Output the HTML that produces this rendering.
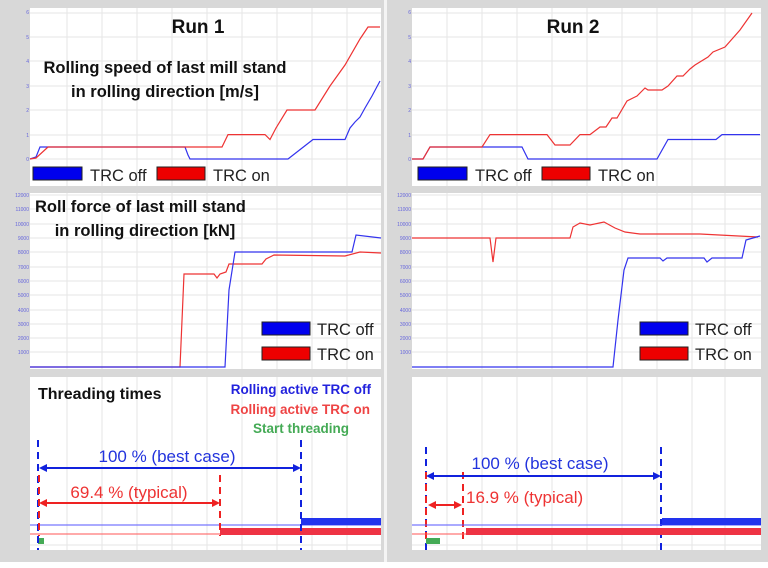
<!DOCTYPE html>
<html><head><meta charset="utf-8"><style>
body{margin:0;background:#fff}
svg{display:block;font-family:"Liberation Sans",sans-serif}
.b{font-weight:bold}
</style></head><body>
<svg width="768" height="568" viewBox="0 0 768 568">
<rect width="768" height="568" fill="#d8d8d8"/>
<rect x="384" y="0" width="3" height="568" fill="#f4f4f4"/>
<rect x="0" y="562" width="768" height="6" fill="#fff"/>
<!-- plot areas -->
<g fill="#fff">
<rect x="30" y="8" width="351" height="178"/><rect x="412" y="8" width="349" height="178"/>
<rect x="30" y="193" width="351" height="176"/><rect x="412" y="193" width="349" height="176"/>
<rect x="30" y="377" width="351" height="173"/><rect x="412" y="377" width="349" height="173"/>
</g>
<!-- grids -->
<g stroke="#e6e6e6" stroke-width="1">
<path d="M67 8V186M102 8V186M137 8V186M172 8V186M207 8V186M242 8V186M277 8V186M312 8V186M347 8V186"/>
<path d="M67 193V369M102 193V369M137 193V369M172 193V369M207 193V369M242 193V369M277 193V369M312 193V369M347 193V369"/>
<path d="M67 377V550M102 377V550M137 377V550M172 377V550M207 377V550M242 377V550M277 377V550M312 377V550M347 377V550"/>
<path d="M447 8V186M482 8V186M517 8V186M552 8V186M587 8V186M622 8V186M657 8V186M692 8V186M725 8V186"/>
<path d="M447 193V369M482 193V369M517 193V369M552 193V369M587 193V369M622 193V369M657 193V369M692 193V369M725 193V369"/>
<path d="M447 377V550M482 377V550M517 377V550M552 377V550M587 377V550M622 377V550M657 377V550M692 377V550M725 377V550"/>
<path d="M30 159H381M30 135H381M30 110H381M30 86H381M30 61H381M30 37H381M30 13H381"/>
<path d="M412 159H761M412 135H761M412 110H761M412 86H761M412 61H761M412 37H761M412 13H761"/>
<path d="M30 352H381M30 338H381M30 324H381M30 310H381M30 295H381M30 281H381M30 267H381M30 252H381M30 238H381M30 224H381M30 209H381M30 195H381"/>
<path d="M412 352H761M412 338H761M412 324H761M412 310H761M412 295H761M412 281H761M412 267H761M412 252H761M412 238H761M412 224H761M412 209H761M412 195H761"/>
<path d="M30 545H381M412 545H761"/>
</g>
<!-- tick labels -->
<g fill="#6666dd" font-size="5" text-anchor="end">
<text x="29" y="161">0</text><text x="29" y="137">1</text><text x="29" y="112">2</text><text x="29" y="88">3</text><text x="29" y="63">4</text><text x="29" y="39">5</text><text x="29" y="14">6</text>
<text x="411" y="161">0</text><text x="411" y="137">1</text><text x="411" y="112">2</text><text x="411" y="88">3</text><text x="411" y="63">4</text><text x="411" y="39">5</text><text x="411" y="14">6</text>
<text x="29" y="354">1000</text><text x="29" y="340">2000</text><text x="29" y="326">3000</text><text x="29" y="312">4000</text><text x="29" y="297">5000</text><text x="29" y="283">6000</text><text x="29" y="269">7000</text><text x="29" y="254">8000</text><text x="29" y="240">9000</text><text x="29" y="226">10000</text><text x="29" y="211">11000</text><text x="29" y="197">12000</text>
<text x="411" y="354">1000</text><text x="411" y="340">2000</text><text x="411" y="326">3000</text><text x="411" y="312">4000</text><text x="411" y="297">5000</text><text x="411" y="283">6000</text><text x="411" y="269">7000</text><text x="411" y="254">8000</text><text x="411" y="240">9000</text><text x="411" y="226">10000</text><text x="411" y="211">11000</text><text x="411" y="197">12000</text>
</g>
<!-- Run1 speed -->
<g fill="none" stroke-width="1.2">
<polyline stroke="#3333ee" points="30,159 36,157 40,147 185,147 188,155 190,159 288,159 313,139.5 345,139.5 350,128 355,122 360,117 365,108 372,96 380,81"/>
<polyline stroke="#ee3333" points="30,159 36,158 48,147 222,147 228,134.6 265,134.6 270,139.5 276,128 287,110 315,110 330,86 345,65 360,39 368,27 380,27"/>
<!-- Run2 speed -->
<polyline stroke="#3333ee" points="412,159 423,159 430,147 522,147 528,159 657,159 668,139.5 716,139.5 722,134.6 760,134.6"/>
<polyline stroke="#ee3333" points="412,159 423,159 430,147 482,147 490,134.6 547,134.6 555,145 570,145 580,134.6 590,134.6 600,127 606,127 612,118 617,118 627,101 637,96 645,88 648,90 662,90 668,86 677,76 683,76 690,69 695,65 708,57 713,52 725,47 740,30 752,13"/>
<!-- Run1 force -->
<polyline stroke="#ee3333" points="30,367 180,367 184,274 214,274 217,278 220,274 226,272 229,264 262,264 266,259 274,255 345,256 360,252 381,253"/>
<polyline stroke="#3333ee" points="30,367 225,367 229,290 235,252 352,252 356,235 381,238"/>
<!-- Run2 force -->
<polyline stroke="#ee3333" points="412,238 490,238 493,262 496,238 570,238 573,227 580,223 590,225 604,222 615,228 625,232 640,234 700,234 758,237"/>
<polyline stroke="#3333ee" points="412,367 613,367 618,320 624,270 628,258 660,258 663,261 667,258 704,258 707,262 712,258 742,258 746,240 760,236"/>
</g>
<!-- titles -->
<g class="b" fill="#111">
<text x="198" y="33" font-size="19" text-anchor="middle" font-weight="bold">Run 1</text>
<text x="573" y="33" font-size="19" text-anchor="middle" font-weight="bold">Run 2</text>
<text x="165" y="73" font-size="16.5" text-anchor="middle" font-weight="bold">Rolling speed of last mill stand</text>
<text x="165" y="97" font-size="16.5" text-anchor="middle" font-weight="bold">in rolling direction [m/s]</text>
<text x="35" y="212" font-size="16.5" font-weight="bold">Roll force of last mill stand</text>
<text x="145" y="236" font-size="16.5" text-anchor="middle" font-weight="bold">in rolling direction [kN]</text>
<text x="38" y="399" font-size="16" font-weight="bold">Threading times</text>
</g>
<!-- legends -->
<g stroke="#222" stroke-width="1">
<rect x="33" y="167" width="49" height="13" fill="#0000ee"/><rect x="157" y="167" width="48" height="13" fill="#ee0000"/>
<rect x="418" y="167" width="49" height="13" fill="#0000ee"/><rect x="542" y="167" width="48" height="13" fill="#ee0000"/>
<rect x="262" y="322" width="48" height="13" fill="#0000ee"/><rect x="262" y="347" width="48" height="13" fill="#ee0000"/>
<rect x="640" y="322" width="48" height="13" fill="#0000ee"/><rect x="640" y="347" width="48" height="13" fill="#ee0000"/>
</g>
<g font-size="16.5" fill="#222">
<text x="90" y="181">TRC off</text><text x="213" y="181">TRC on</text>
<text x="475" y="181">TRC off</text><text x="598" y="181">TRC on</text>
<text x="317" y="335">TRC off</text><text x="317" y="360">TRC on</text>
<text x="695" y="335">TRC off</text><text x="695" y="360">TRC on</text>
</g>
<g font-size="13.5" font-weight="bold" text-anchor="end">
<text x="371" y="394" fill="#2222dd">Rolling active TRC off</text>
<text x="370" y="414" fill="#ee4444">Rolling active TRC on</text>
<text x="349" y="433" fill="#44aa55">Start threading</text>
</g>
<!-- bottom Run1 -->
<path d="M30 525H381" stroke="#5555ff" stroke-width="1"/>
<path d="M30 534H381" stroke="#ff5555" stroke-width="1"/>
<rect x="220" y="528" width="161" height="7" fill="#ee3344"/>
<rect x="301" y="518" width="80" height="7" fill="#2233ee"/>
<rect x="38" y="538" width="6" height="6" fill="#44aa55"/>
<g stroke-dasharray="7,5" stroke-width="2">
<path d="M38 440V550M301 440V550" stroke="#1122dd"/>
<path d="M39 475V536M220 475V536" stroke="#ee2222"/>
<path d="M426 447V550M661 447V550" stroke="#1122dd"/>
<path d="M426 472V540M463 472V540" stroke="#ee2222"/>
</g>
<g stroke-width="2">
<path d="M44 468H295" stroke="#1122dd"/><path d="M39 468l8-4v8zM301 468l-8-4v8z" fill="#1122dd" stroke="none"/>
<path d="M44 503H214" stroke="#ee2222"/><path d="M39 503l8-4v8zM220 503l-8-4v8z" fill="#ee2222" stroke="none"/>
<path d="M431 476H655" stroke="#1122dd"/><path d="M426 476l8-4v8zM661 476l-8-4v8z" fill="#1122dd" stroke="none"/>
<path d="M433 505H457" stroke="#ee2222"/><path d="M428 505l8-4v8zM462 505l-8-4v8z" fill="#ee2222" stroke="none"/>
</g>
<g font-size="17">
<text x="167" y="462" text-anchor="middle" fill="#2233dd">100 % (best case)</text>
<text x="129" y="498" text-anchor="middle" fill="#ee3333">69.4 % (typical)</text>
<text x="540" y="469" text-anchor="middle" fill="#2233dd">100 % (best case)</text>
<text x="466" y="503" fill="#ee3333">16.9 % (typical)</text>
</g>
<!-- bottom Run2 -->
<path d="M412 525H761" stroke="#5555ff" stroke-width="1"/>
<path d="M412 534H761" stroke="#ff5555" stroke-width="1"/>
<rect x="466" y="528" width="295" height="7" fill="#ee3344"/>
<rect x="662" y="518" width="99" height="7" fill="#2233ee"/>
<rect x="426" y="538" width="14" height="6" fill="#44aa55"/>
</svg>
</body></html>
